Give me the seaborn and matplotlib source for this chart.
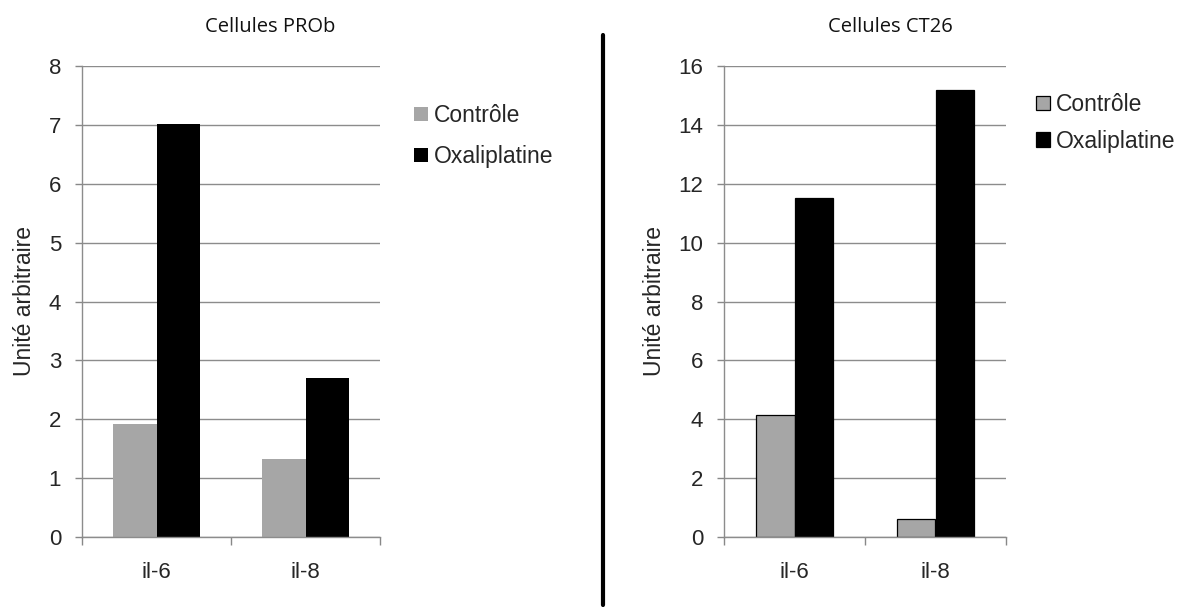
import matplotlib
matplotlib.use("Agg")
import matplotlib.pyplot as plt
import seaborn as sns
import pandas as pd
from matplotlib.lines import Line2D

categories = ["il-6", "il-8"]
series = ["Contrôle", "Oxaliplatine"]
prob_controle = [1.92, 1.32]
prob_oxali = [7.02, 2.70]
ct26_controle = [4.15, 0.60]
ct26_oxali = [11.5, 15.2]
prob_yticks = [0, 1, 2, 3, 4, 5, 6, 7, 8]
ct26_yticks = [0, 2, 4, 6, 8, 10, 12, 14, 16]
titles = ["Cellules PROb", "Cellules CT26"]
ylabel = "Unité arbitraire"

sns.set_theme(style="white")
plt.rcParams["font.family"] = ["Liberation Sans", "DejaVu Sans"]

colors = {"Contrôle": "#a6a6a6", "Oxaliplatine": "#000000"}

def make_df(c, o):
    return pd.DataFrame({
        "cat": categories * 2,
        "serie": [series[0]] * 2 + [series[1]] * 2,
        "val": list(c) + list(o),
    })

fig = plt.figure(figsize=(11.82, 6.12), dpi=100)
H = 612.0
W = 1182.0
ax1 = fig.add_axes([82 / W, 1 - 537 / H, (380 - 82) / W, (537 - 66) / H])
ax2 = fig.add_axes([724 / W, 1 - 537 / H, (1006 - 724) / W, (537 - 66) / H])

configs = [
    (ax1, make_df(prob_controle, prob_oxali), prob_yticks, 0.58, None, 0, titles[0],
     (414 / W, 1 - 104 / H), 0.78, 270 / W),
    (ax2, make_df(ct26_controle, ct26_oxali), ct26_yticks, 0.55, "#000000", 0.9, titles[1],
     (1036 / W, 1 - 93 / H), 0.6, 890 / W),
]

for ax, df, yt, width, ec, lw, title, legpos, lsp, tx in configs:
    sns.barplot(data=df, x="cat", y="val", hue="serie", order=categories,
                hue_order=series, palette=colors, width=width, ax=ax,
                edgecolor=ec if ec else "none", linewidth=lw, saturation=1, legend=True)
    ax.set_ylim(yt[0], yt[-1])
    ax.set_yticks(yt)
    ax.set_xlim(-0.5, 1.5)
    ax.set_xticks([0, 1])
    ax.set_xticklabels(categories)
    ax.set_xticks([-0.5, 0.5, 1.5], minor=True)
    ax.tick_params(axis="x", which="major", length=0, labelsize=16, pad=18)
    ax.tick_params(axis="x", which="minor", length=6, color="#888888", width=1, direction="out", bottom=True)
    ax.tick_params(axis="y", length=5, color="#888888", width=1, labelsize=16, pad=10, left=True)
    ax.yaxis.grid(True, color="#8c8c8c", linewidth=1)
    ax.set_axisbelow(True)
    for s in ["top", "right"]:
        ax.spines[s].set_visible(False)
    ax.spines["left"].set_color("#8c8c8c")
    ax.spines["bottom"].set_color("#8c8c8c")
    ax.spines["left"].set_linewidth(1)
    ax.spines["bottom"].set_linewidth(1)
    ax.set_xlabel("")
    ax.set_ylabel(ylabel, fontsize=16.5, labelpad=9)
    fig.text(tx, 1 - 27 / H, title, fontsize=14.5, family=["Open Sans", "DejaVu Sans"],
             ha="center", va="center", color="#111111")
    leg = ax.legend(loc="upper left", bbox_to_anchor=legpos, bbox_transform=fig.transFigure,
                    frameon=False, fontsize=16.5, handlelength=0.6, handleheight=0.6,
                    handletextpad=0.25, labelspacing=lsp, borderaxespad=0, borderpad=0)

fig.add_artist(Line2D([603 / W, 603 / W], [1 - 35 / H, 1 - 605 / H], color="black", linewidth=3))

fig.savefig("out.png", dpi=100, facecolor="white")
